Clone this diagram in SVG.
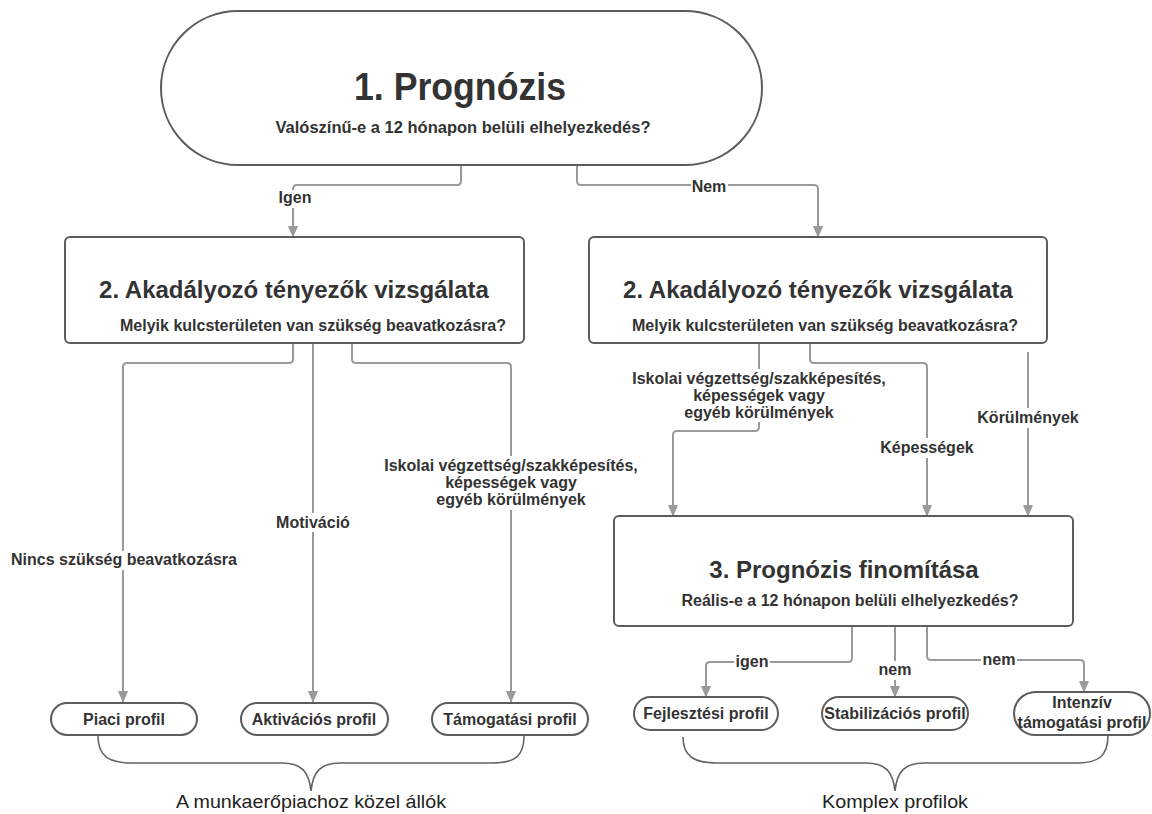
<svg xmlns="http://www.w3.org/2000/svg" width="1152" height="814" viewBox="0 0 1152 814">
<style>
.shape{fill:#fff;stroke:#5c5c5c;stroke-width:2}
.conn{fill:none;stroke:#9a9a9a;stroke-width:2}
.brace{fill:none;stroke:#666;stroke-width:1.6}
.t{font-family:"Liberation Sans",Arial,sans-serif;font-weight:bold;fill:#333;text-anchor:middle}
.l{font-size:16px}
.cap{font-family:"Liberation Sans",Arial,sans-serif;fill:#222;text-anchor:middle}
.bg{fill:#fff}
</style>
<defs>
<marker id="ah" markerWidth="12" markerHeight="14" refX="13" refY="6" orient="auto" markerUnits="userSpaceOnUse" viewBox="0 0 14 12">
<path d="M0,0 L14,6 L0,12 Z" fill="#9a9a9a"/>
</marker>
</defs>

<g id="connectors">
<path class="conn" d="M461,165 V181 Q461,185 457,185 H297 Q293,185 293,189 V237" marker-end="url(#ah)"/>
<path class="conn" d="M577,165 V181 Q577,185 581,185 H814 Q818,185 818,189 V237" marker-end="url(#ah)"/>
<path class="conn" d="M293,343 V359 Q293,363 289,363 H127 Q123,363 123,367 V702" marker-end="url(#ah)"/>
<path class="conn" d="M313,343 V702" marker-end="url(#ah)"/>
<path class="conn" d="M352,343 V359 Q352,363 356,363 H507 Q511,363 511,367 V702" marker-end="url(#ah)"/>
<path class="conn" d="M759,343 V427 Q759,431 755,431 H677 Q673,431 673,435 V516" marker-end="url(#ah)"/>
<path class="conn" d="M810,343 V359 Q810,363 814,363 H923 Q927,363 927,367 V516" marker-end="url(#ah)"/>
<path class="conn" d="M1028,352 V516" marker-end="url(#ah)"/>
<path class="conn" d="M852,626 V658 Q852,662 848,662 H710 Q706,662 706,666 V697" marker-end="url(#ah)"/>
<path class="conn" d="M895,626 V697" marker-end="url(#ah)"/>
<path class="conn" d="M927,626 V656 Q927,660 931,660 H1080 Q1084,660 1084,664 V692" marker-end="url(#ah)"/>
<path class="brace" d="M98,736 C98,757 110,763 132,763 L282,763 C302,763 309,772 311,791 C313,772 320,763 340,763 L492,763 C514,763 524,757 524,736"/>
<path class="brace" d="M683,737 C683,757 695,763 717,763 L866,763 C886,763 893,772 895,791 C897,772 904,763 924,763 L1076,763 C1098,763 1108,757 1108,735"/>
</g>

<g id="labels">
<rect class="bg" x="276" y="190" width="37" height="18"/>
<text class="t l" x="295" y="203">Igen</text>
<rect class="bg" x="691" y="178" width="37" height="18"/>
<text class="t l" x="709" y="192">Nem</text>
<rect class="bg" x="6" y="551" width="238" height="19"/>
<text class="t l" x="124" y="565">Nincs szükség beavatkozásra</text>
<rect class="bg" x="272" y="513" width="82" height="19"/>
<text class="t l" x="313" y="528">Motiváció</text>
<rect class="bg" x="378" y="456" width="266" height="54"/>
<text class="t l" x="511" y="471">Iskolai végzettség/szakképesítés,</text>
<text class="t l" x="511" y="488">képességek vagy</text>
<text class="t l" x="511" y="505">egyéb körülmények</text>
<rect class="bg" x="626" y="369" width="266" height="53"/>
<text class="t l" x="759" y="384">Iskolai végzettség/szakképesítés,</text>
<text class="t l" x="759" y="401">képességek vagy</text>
<text class="t l" x="759" y="418">egyéb körülmények</text>
<rect class="bg" x="877" y="438" width="100" height="20"/>
<text class="t l" x="927" y="453">Képességek</text>
<rect class="bg" x="974" y="408" width="108" height="20"/>
<text class="t l" x="1028" y="423">Körülmények</text>
<rect class="bg" x="734" y="653" width="36" height="18"/>
<text class="t l" x="752" y="667">igen</text>
<rect class="bg" x="878" y="661" width="34" height="19"/>
<text class="t l" x="895" y="675">nem</text>
<rect class="bg" x="981" y="651" width="36" height="18"/>
<text class="t l" x="999" y="665">nem</text>
</g>

<g id="node-prognozis">
<rect class="shape" x="161" y="11" width="601" height="154" rx="77" ry="77"/>
<text class="t" x="460" y="100" font-size="38" textLength="212" lengthAdjust="spacingAndGlyphs">1. Prognózis</text>
<text class="t" x="463" y="133" font-size="16" textLength="375" lengthAdjust="spacingAndGlyphs">Valószínű-e a 12 hónapon belüli elhelyezkedés?</text>
</g>

<g id="node-akad-left">
<rect class="shape" x="65" y="237" width="459" height="106" rx="5"/>
<text class="t" x="294" y="298" font-size="24">2. Akadályozó tényezők vizsgálata</text>
<text class="t" x="313" y="331" font-size="16">Melyik kulcsterületen van szükség beavatkozásra?</text>
</g>

<g id="node-akad-right">
<rect class="shape" x="589" y="237" width="458" height="106" rx="5"/>
<text class="t" x="818" y="298" font-size="24">2. Akadályozó tényezők vizsgálata</text>
<text class="t" x="825" y="331" font-size="16">Melyik kulcsterületen van szükség beavatkozásra?</text>
</g>

<g id="node-finomitas">
<rect class="shape" x="614" y="516" width="459" height="110" rx="5"/>
<text class="t" x="844" y="578" font-size="24">3. Prognózis finomítása</text>
<text class="t" x="850" y="606" font-size="16">Reális-e a 12 hónapon belüli elhelyezkedés?</text>
</g>

<g id="node-piaci">
<rect class="shape" x="51" y="703" width="146" height="32" rx="16"/>
<text class="t l" x="124" y="725">Piaci profil</text>
</g>
<g id="node-aktivacios">
<rect class="shape" x="241" y="703" width="147" height="32" rx="16"/>
<text class="t l" x="314" y="725">Aktivációs profil</text>
</g>
<g id="node-tamogatasi">
<rect class="shape" x="432" y="703" width="156" height="32" rx="16"/>
<text class="t l" x="510" y="725">Támogatási profil</text>
</g>
<g id="node-fejlesztesi">
<rect class="shape" x="634" y="697" width="144" height="33" rx="16.5"/>
<text class="t l" x="706" y="719">Fejlesztési profil</text>
</g>
<g id="node-stabilizacios">
<rect class="shape" x="822" y="697" width="146" height="33" rx="16.5"/>
<text class="t l" x="895" y="719">Stabilizációs profil</text>
</g>
<g id="node-intenziv">
<rect class="shape" x="1014" y="692" width="136" height="43" rx="21.5"/>
<text class="t l" x="1082" y="708">Intenzív</text>
<text class="t l" x="1082" y="728">támogatási profil</text>
</g>

<g id="captions">
<text class="cap" x="311" y="808" font-size="19" textLength="270" lengthAdjust="spacingAndGlyphs">A munkaerőpiachoz közel állók</text>
<text class="cap" x="895" y="808" font-size="19" textLength="146" lengthAdjust="spacingAndGlyphs">Komplex profilok</text>
</g>
</svg>
